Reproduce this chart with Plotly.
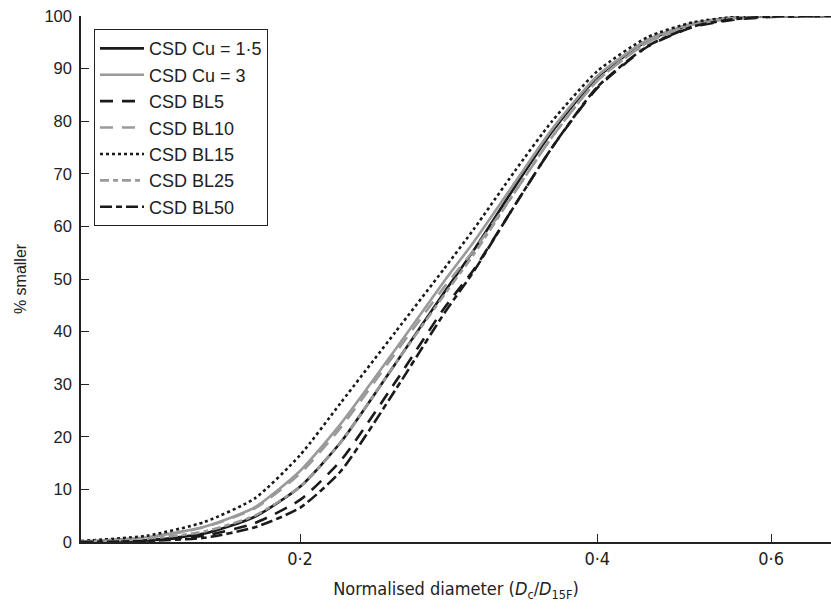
import plotly.graph_objects as go

# Normalised diameter grid (Dc/D15F)
x_vals = [0.12, 0.14, 0.16, 0.18, 0.20, 0.22, 0.25, 0.28, 0.30, 0.33, 0.36, 0.40, 0.45, 0.50, 0.55, 0.60, 0.69]

# % smaller for each CSD curve
cu15 = [0.0, 0.3, 1.6, 4.8, 10.5, 19.0, 34.0, 47.5, 55.5, 67.5, 78.0, 88.3, 95.3, 98.5, 99.7, 100.0, 100.0]
cu3 = [0.1, 0.9, 2.9, 6.6, 13.5, 22.5, 36.7, 49.6, 57.1, 68.3, 78.5, 88.6, 95.5, 98.6, 99.7, 100.0, 100.0]
bl5 = [0.0, 0.3, 1.2, 3.6, 8.0, 15.5, 30.5, 44.5, 51.8, 64.0, 75.0, 86.3, 94.2, 97.9, 99.3, 99.8, 100.0]
bl10 = [0.1, 0.8, 2.8, 6.4, 13.0, 21.8, 36.0, 48.5, 55.5, 66.5, 77.0, 87.7, 95.0, 98.4, 99.6, 99.9, 100.0]
bl15 = [0.2, 1.2, 3.8, 8.3, 16.5, 26.5, 40.0, 52.0, 59.5, 70.5, 80.0, 89.5, 96.0, 98.8, 99.8, 100.0, 100.0]
bl25 = [0.1, 0.6, 2.0, 5.0, 10.5, 19.0, 34.0, 47.0, 54.7, 66.5, 77.0, 87.7, 95.0, 98.3, 99.6, 99.95, 100.0]
bl50 = [0.0, 0.2, 0.8, 2.8, 6.5, 13.5, 29.0, 43.5, 51.5, 64.0, 75.0, 86.5, 94.3, 98.0, 99.4, 99.9, 100.0]

series_names = ["CSD Cu = 1·5", "CSD Cu = 3", "CSD BL5", "CSD BL10", "CSD BL15", "CSD BL25", "CSD BL50"]
series_vals = [cu15, cu3, bl5, bl10, bl15, bl25, bl50]

x_tick_vals = [0.2, 0.4, 0.6]
x_tick_text = ["0·2", "0·4", "0·6"]
y_tick_vals = [0, 10, 20, 30, 40, 50, 60, 70, 80, 90, 100]

BLACK = "#1a1a1a"
GREY = "#9a9a9a"
styles = [
    (BLACK, "solid"),
    (GREY, "solid"),
    (BLACK, "13px,9px"),
    (GREY, "13px,9px"),
    (BLACK, "3px,3px"),
    (GREY, "9px,4px,5px,4px"),
    (BLACK, "12px,4px,6px,4px"),
]

fig = go.Figure()
for name, vals, (col, dash) in zip(series_names, series_vals, styles):
    fig.add_trace(go.Scatter(
        x=x_vals, y=vals, mode="lines", name=name,
        line=dict(color=col, width=2.6, dash=dash, shape="spline", smoothing=0.6),
    ))

narrow = "Liberation Sans Narrow, DejaVu Sans Condensed, Arial Narrow, Liberation Sans, Arial, sans-serif"
sans = "Liberation Sans, Arial, Helvetica, sans-serif"

fig.update_layout(
    width=831, height=610,
    margin=dict(l=81, r=0, t=16, b=68),
    paper_bgcolor="white", plot_bgcolor="white",
    font=dict(family=sans, color="#222222", size=16),
    showlegend=True,
    legend=dict(
        x=0.0173, y=0.975, xanchor="left", yanchor="top",
        bordercolor="#222222", borderwidth=1, bgcolor="white",
        font=dict(family=sans, size=18, color="#222222"),
        tracegroupgap=0, itemwidth=44,
    ),
    xaxis=dict(
        type="log", range=[-0.9208, -0.1612],
        tickvals=x_tick_vals, ticktext=x_tick_text,
        ticks="inside", ticklen=8, tickcolor="#222222", tickwidth=1,
        showline=True, linecolor="#222222", linewidth=1.5,
        showgrid=False, zeroline=False,
        tickfont=dict(family=narrow, size=18, color="#222222"),
        title=dict(text="Normalised diameter (<i>D</i><sub>c</sub>/<i>D</i><sub>15F</sub>)",
                   font=dict(family=narrow, size=18, color="#222222"), standoff=14),
    ),
    yaxis=dict(
        range=[0, 100], tickvals=y_tick_vals,
        ticks="inside", ticklen=8, tickcolor="#222222", tickwidth=1,
        showline=True, linecolor="#222222", linewidth=1.5,
        showgrid=False, zeroline=False,
        tickfont=dict(family=sans, size=16.5, color="#222222"),
        ticklabelstandoff=4,
        title=dict(text="% smaller", font=dict(family=sans, size=16, color="#222222"), standoff=14),
    ),
)

fig.write_html("out.html")
